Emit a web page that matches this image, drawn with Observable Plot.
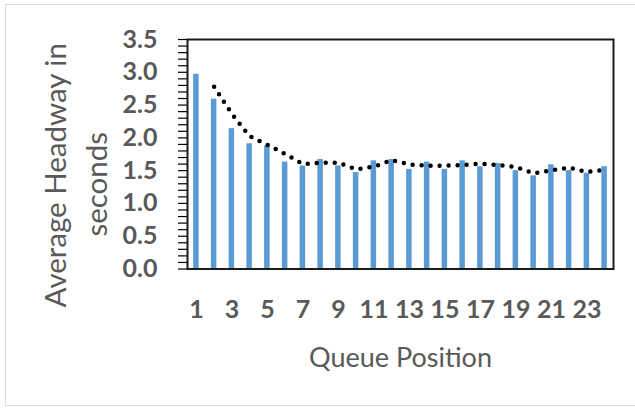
<!DOCTYPE html>
<html>
<head>
<meta charset="utf-8">
<script src="https://cdn.jsdelivr.net/npm/d3@7"></script>
<script src="https://cdn.jsdelivr.net/npm/@observablehq/plot@0.6"></script>
<style>
  html, body { margin: 0; padding: 0; background: #fff; }
  #wrap { position: relative; width: 635px; height: 409px; overflow: hidden; background: #fff; }
  #border { position: absolute; left: 5px; top: 4px; width: 660px; height: 402px; border: 1.5px solid #d9d9d9; box-sizing: border-box; }
  #chart { position: absolute; left: 0; top: 0; }
</style>
</head>
<body>
<div id="wrap"><div id="border"></div><div id="chart"></div></div>
<script>
const positions = [1,2,3,4,5,6,7,8,9,10,11,12,13,14,15,16,17,18,19,20,21,22,23,24];
const headways = [2.97,2.59,2.14,1.91,1.88,1.63,1.57,1.67,1.57,1.47,1.65,1.67,1.52,1.63,1.52,1.65,1.56,1.61,1.50,1.42,1.59,1.50,1.46,1.56];
const xTickLabels = [1,3,5,7,9,11,13,15,17,19,21,23];
const yTickLabels = [0,0.5,1,1.5,2,2.5,3,3.5];
const yMinorTicks = [0,0.1,0.2,0.3,0.4,0.5,0.6,0.7,0.8,0.9,1,1.1,1.2,1.3,1.4,1.5,1.6,1.7,1.8,1.9,2,2.1,2.2,2.3,2.4,2.5,2.6,2.7,2.8,2.9,3,3.1,3.2,3.3,3.4,3.5];
const yTitleLines = ["Average Headway in", "seconds"];
const xTitle = "Queue Position";

const data = positions.map((p, i) => ({pos: p, headway: headways[i]}));
const grey = "#595959";
const font = "Lato, 'Open Sans', sans-serif";

const chart = Plot.plot({
  width: 635,
  height: 409,
  marginLeft: 187,
  marginRight: 22,
  marginTop: 39,
  marginBottom: 140.5,
  style: {fontFamily: font, background: "transparent"},
  x: {type: "band", domain: positions, paddingInner: 0.69, paddingOuter: 0.345, round: false},
  y: {domain: [0, 3.5]},
  marks: [
    Plot.barY(data, {x: "pos", y: "headway", fill: "#5b9bd5"}),
    Plot.lineY(data, Plot.windowY({k: 2, anchor: "end", strict: true, reduce: "mean"}, {
      x: "pos", y: "headway", stroke: "#000", strokeWidth: 4.5,
      strokeDasharray: "0 9", strokeLinecap: "round"
    })),
    Plot.axisY({ticks: yMinorTicks, tickSize: 9, text: null, label: null, stroke: "#000", strokeWidth: 1.2}),
    Plot.axisY({ticks: yTickLabels, tickSize: 0, tickPadding: 30, tickFormat: d3.format(".1f"),
      fontSize: 25, fontWeight: "bold", fill: grey, label: null}),
    Plot.axisX({ticks: xTickLabels, tickSize: 0, tickPadding: 31, fontSize: 25, fontWeight: "bold",
      fill: grey, label: null}),
    Plot.frame({stroke: "#1a1a1a", strokeWidth: 2}),
    Plot.text([xTitle], {text: d => d, frameAnchor: "bottom", dy: 79, lineAnchor: "top",
      textAnchor: "middle", fontSize: 27, fill: grey}),
    Plot.text([yTitleLines[0]], {text: d => d, frameAnchor: "left", rotate: -90, dx: -131, dy: 21,
      textAnchor: "middle", lineAnchor: "middle", fontSize: 29.5, fill: grey}),
    Plot.text([yTitleLines[1]], {text: d => d, frameAnchor: "left", rotate: -90, dx: -90, dy: 30,
      textAnchor: "middle", lineAnchor: "middle", fontSize: 29.5, fill: grey})
  ]
});
document.getElementById("chart").appendChild(chart);
</script>
</body>
</html>
